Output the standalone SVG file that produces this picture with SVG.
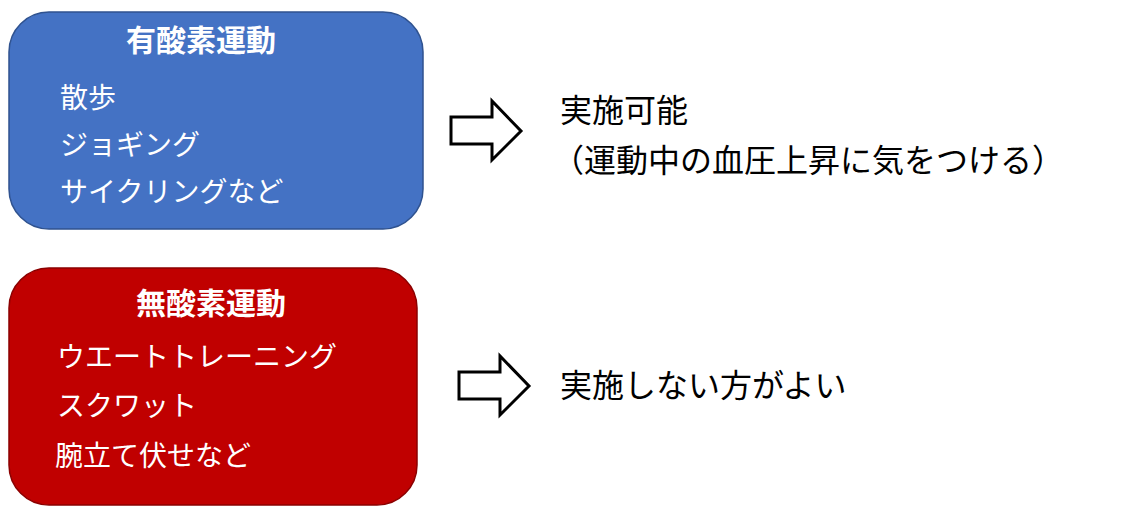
<svg xmlns="http://www.w3.org/2000/svg" width="1137" height="518" viewBox="0 0 1137 518">
<style>
text{font-family:"Noto Sans CJK JP","Noto Sans CJK SC",sans-serif;}
.t{fill:#fff;font-weight:bold;font-size:30px;text-anchor:middle}
.i{fill:#fff;font-size:28px}
.b{fill:#000;font-size:32px}
.arr{fill:#fff;stroke:#000;stroke-width:3}
</style>
<rect width="1137" height="518" fill="#fff"/>
<g id="aerobic">
<rect x="9" y="12" width="414" height="217" rx="40" fill="#4472C4" stroke="#2F528F" stroke-width="1.5"/>
<text class="t" x="201" y="51">有酸素運動</text>
<text class="i" x="60" y="108">散歩</text>
<text class="i" x="60" y="155">ジョギング</text>
<text class="i" x="60" y="202">サイクリングなど</text>
</g>
<g id="anaerobic">
<rect x="9" y="268" width="408" height="237" rx="40" fill="#C00000" stroke="#8B0000" stroke-width="1.5"/>
<text class="t" x="211" y="314">無酸素運動</text>
<text class="i" x="57" y="367">ウエートトレーニング</text>
<text class="i" x="57" y="416">スクワット</text>
<text class="i" x="55" y="466">腕立て伏せなど</text>
</g>
<g id="connectors">
<path class="arr" d="M451,117 H492 V101 L521,131 L492,160 V144 H451 Z"/>
<path class="arr" d="M459,372 H500 V356 L529,386 L500,415 V399 H459 Z"/>
</g>
<g id="result1">
<text class="b" x="560" y="122">実施可能</text>
<text class="b" x="552" y="172">（運動中の血圧上昇に気をつける）</text>
</g>
<g id="result2">
<text class="b" x="560" y="397">実施しない方がよい</text>
</g>
</svg>
